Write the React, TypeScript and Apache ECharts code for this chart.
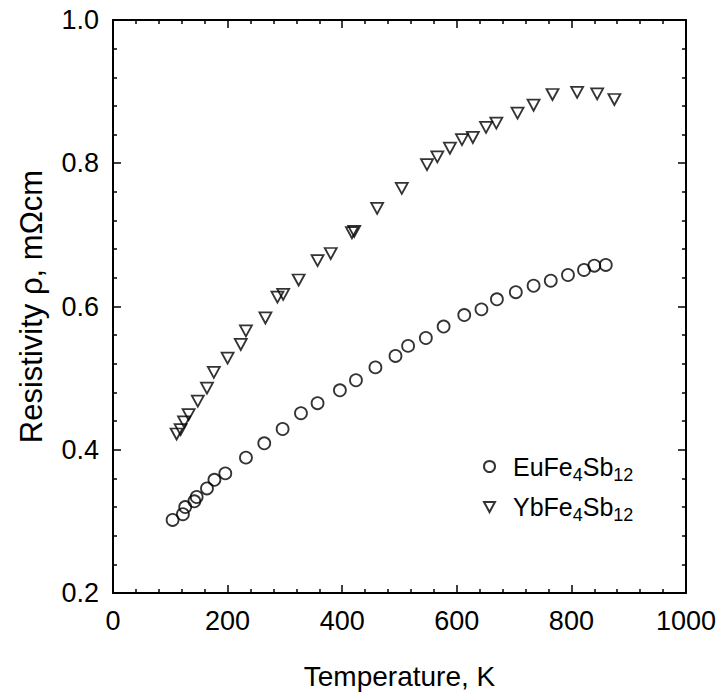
import React, { useEffect, useRef } from "react";
import * as echarts from "echarts";

const euTemp = [104, 122, 126, 142, 146, 164, 177, 196, 232, 264, 296, 328, 357, 396, 424, 458, 493, 515, 546, 577, 613, 643, 670, 703, 734, 764, 794, 822, 840, 860];
const euRho = [0.302, 0.31, 0.32, 0.328, 0.334, 0.346, 0.358, 0.367, 0.389, 0.409, 0.429, 0.451, 0.465, 0.483, 0.497, 0.515, 0.531, 0.545, 0.556, 0.572, 0.588, 0.596, 0.61, 0.62, 0.629, 0.636, 0.644, 0.651, 0.657, 0.658];

const ybTemp = [111, 118, 124, 132, 148, 164, 176, 200, 223, 232, 266, 287, 297, 324, 357, 380, 417, 421, 461, 504, 548, 566, 588, 609, 628, 651, 669, 706, 734, 767, 810, 845, 875];
const ybRho = [0.422, 0.428, 0.439, 0.449, 0.468, 0.486, 0.508, 0.528, 0.547, 0.566, 0.584, 0.613, 0.617, 0.637, 0.664, 0.674, 0.703, 0.705, 0.737, 0.765, 0.798, 0.809, 0.821, 0.833, 0.836, 0.85, 0.856, 0.87, 0.881, 0.896, 0.899, 0.897, 0.889];

const seriesNames = ["EuFe4Sb12", "YbFe4Sb12"];
const legendRich = ["{g| }{m|EuFe}{s|4}{m|Sb}{s|12}", "{g| }{m|YbFe}{s|4}{m|Sb}{s|12}"];

const xTitle = "Temperature, K";
const yTitle = "Resistivity ρ, mΩcm";

const FONT = "Liberation Sans, Arial, sans-serif";
const DOWN_TRIANGLE = "path://M0,0L12,0L6,11Z";

export default function App() {
  const ref = useRef<HTMLDivElement>(null);
  useEffect(() => {
    if (!ref.current) return;
    const chart = echarts.init(ref.current, undefined, { renderer: "svg" });
    const axisCommon = {
      type: "value",
      axisLine: { show: true, onZero: false, lineStyle: { color: "#000", width: 2 } },
      axisTick: { show: true, inside: true, length: 8, lineStyle: { color: "#000", width: 1.5 } },
      minorTick: { show: true, splitNumber: 5, length: 4, lineStyle: { color: "#000", width: 1.5 } },
      splitLine: { show: false },
      minorSplitLine: { show: false },
    };
    const tickStyle = { color: "#000", fontSize: 27, fontFamily: FONT };
    const titleStyle = { color: "#000", fontSize: 28, fontFamily: FONT };
    const markerStyle = { color: "rgba(255,255,255,0)", borderColor: "#000", borderWidth: 1.8 };
    const option: any = {
      animation: false,
      backgroundColor: "#fff",
      grid: { left: 113, right: 34, top: 20, bottom: 106 },
      xAxis: [
        {
          ...axisCommon,
          position: "bottom",
          min: 0,
          max: 1000,
          interval: 200,
          axisLabel: { ...tickStyle, margin: 14, formatter: (v: number) => String(v) },
          name: xTitle,
          nameLocation: "middle",
          nameGap: 69,
          nameTextStyle: { ...titleStyle },
        },
        {
          ...axisCommon,
          position: "top",
          min: 0,
          max: 1000,
          interval: 200,
          axisLabel: { show: false },
        },
      ],
      yAxis: [
        {
          ...axisCommon,
          position: "left",
          min: 0.2,
          max: 1.0,
          interval: 0.2,
          axisLabel: { ...tickStyle, margin: 14, formatter: (v: number) => v.toFixed(1) },
          name: yTitle,
          nameLocation: "middle",
          nameGap: 66,
          nameTextStyle: { ...titleStyle, fontSize: 31 },
        },
        {
          ...axisCommon,
          position: "right",
          min: 0.2,
          max: 1.0,
          interval: 0.2,
          axisLabel: { show: false },
        },
      ],
      legend: {
        orient: "vertical",
        left: 478,
        top: 449,
        itemWidth: 11,
        itemHeight: 11,
        itemGap: 11,
        selectedMode: false,
        data: [
          { name: seriesNames[0], icon: "circle" },
          { name: seriesNames[1], icon: DOWN_TRIANGLE },
        ],
        formatter: (name: string) => legendRich[seriesNames.indexOf(name)],
        textStyle: {
          color: "#000",
          fontFamily: FONT,
          rich: {
            g: { width: 13, fontSize: 10 },
            m: { fontSize: 25, fontFamily: FONT, color: "#000" },
            s: { fontSize: 18, fontFamily: FONT, color: "#000", padding: [16, 0, 0, 0] },
          },
        },
      },
      series: [
        {
          name: seriesNames[0],
          type: "scatter",
          xAxisIndex: 0,
          yAxisIndex: 0,
          symbol: "circle",
          symbolSize: 12,
          itemStyle: markerStyle,
          emphasis: { disabled: true },
          data: euTemp.map((t, i) => [t, euRho[i]]),
        },
        {
          name: seriesNames[1],
          type: "scatter",
          xAxisIndex: 0,
          yAxisIndex: 0,
          symbol: DOWN_TRIANGLE,
          symbolSize: [12, 11],
          itemStyle: markerStyle,
          emphasis: { disabled: true },
          data: ybTemp.map((t, i) => [t, ybRho[i]]),
        },
      ],
    };
    chart.setOption(option);
    return () => chart.dispose();
  }, []);
  return (
    <div
      ref={ref}
      style={{ position: "fixed", left: 0, top: 0, width: 720, height: 699, background: "#fff" }}
    />
  );
}
